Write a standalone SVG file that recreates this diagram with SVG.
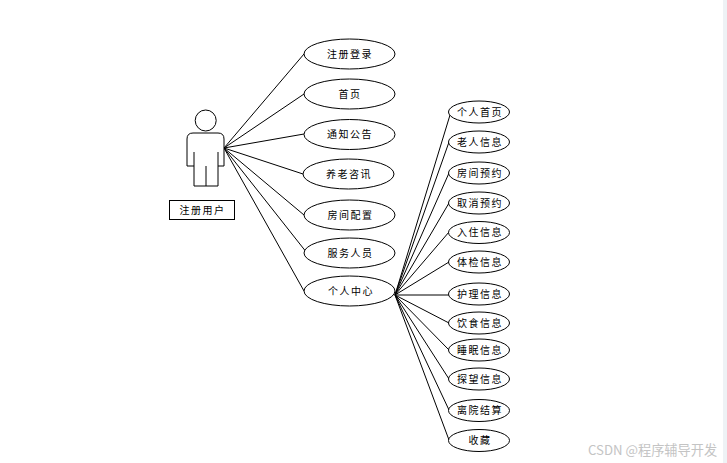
<svg xmlns="http://www.w3.org/2000/svg" width="727" height="463" viewBox="0 0 727 463">
<style>
.s{fill:#fff;stroke:#000;stroke-width:1}
.n{fill:none;stroke:#000;stroke-width:1}
.t{font-family:"Noto Sans CJK SC","Liberation Sans",sans-serif;font-size:10px;text-anchor:middle;dominant-baseline:central;fill:#000;letter-spacing:1.5px}
.w{font-family:"Noto Sans CJK SC","Liberation Sans",sans-serif;font-size:13.2px;fill:#c4c4c4}
</style>
<rect width="727" height="463" fill="#fff"/>
<rect x="723" width="4" height="463" fill="#eef2f5"/>
<g id="connectors" class="n">
<path d="M224 148L304 54M224 148L304 94M224 148L304 134M224 148L303 174M224 148L304 215M224 148L307 253M224 148L304 291"/>
<path d="M395 295L450 115M395 295L449 142M395 295L449 173M395 295L449 203M395 295L449 232M395 295L449 262M395 295L449 295M395 295L449 323M395 295L449 350M395 295L449 379M395 295L449 410M395 295L449 440"/>
</g>
<g id="actor">
<circle class="s" cx="205.700" cy="120.500" r="10.500"/>
<path class="s" d="M187 166V139Q187 133 193 133H218Q224 133 224 139V166H218V186H194V166Z"/>
<path class="n" d="M194 152V166M218 152V166M206 166V186"/>
</g>
<g id="actor-label"><rect class="s" x="169.500" y="200.500" width="65" height="19"/><text class="t" x="202.500" y="209.500">注册用户</text></g>
<g id="n1"><ellipse class="s" cx="349.500" cy="54" rx="45.500" ry="15"/><text class="t" x="350" y="53">注册登录</text></g>
<g id="n2"><ellipse class="s" cx="349.500" cy="94" rx="45.500" ry="15"/><text class="t" x="350" y="93">首页</text></g>
<g id="n3"><ellipse class="s" cx="349.500" cy="134.500" rx="45.500" ry="15"/><text class="t" x="350" y="133.500">通知公告</text></g>
<g id="n4"><ellipse class="s" cx="348.500" cy="174" rx="45.500" ry="15"/><text class="t" x="349" y="173">养老咨讯</text></g>
<g id="n5"><ellipse class="s" cx="349.500" cy="215" rx="45.500" ry="15"/><text class="t" x="350.500" y="214">房间配置</text></g>
<g id="n6"><ellipse class="s" cx="349.500" cy="253" rx="45.500" ry="15"/><text class="t" x="350.500" y="252">服务人员</text></g>
<g id="n7"><ellipse class="s" cx="349.500" cy="291" rx="45.500" ry="15"/><text class="t" x="351" y="290">个人中心</text></g>
<g id="m1"><ellipse class="s" cx="479" cy="112" rx="30.500" ry="11"/><text class="t" x="480" y="111">个人首页</text></g>
<g id="m2"><ellipse class="s" cx="479" cy="142" rx="30.500" ry="11"/><text class="t" x="480" y="141">老人信息</text></g>
<g id="m3"><ellipse class="s" cx="479" cy="173" rx="30.500" ry="11"/><text class="t" x="480" y="172">房间预约</text></g>
<g id="m4"><ellipse class="s" cx="479" cy="203" rx="30.500" ry="11"/><text class="t" x="480" y="202">取消预约</text></g>
<g id="m5"><ellipse class="s" cx="479" cy="232.500" rx="30.500" ry="11"/><text class="t" x="480" y="231.500">入住信息</text></g>
<g id="m6"><ellipse class="s" cx="479" cy="262" rx="30.500" ry="11"/><text class="t" x="480" y="261">体检信息</text></g>
<g id="m7"><ellipse class="s" cx="479" cy="294" rx="30.500" ry="11"/><text class="t" x="480" y="293">护理信息</text></g>
<g id="m8"><ellipse class="s" cx="479" cy="323" rx="30.500" ry="11"/><text class="t" x="480" y="322">饮食信息</text></g>
<g id="m9"><ellipse class="s" cx="479" cy="350" rx="30.500" ry="11"/><text class="t" x="480" y="349">睡眠信息</text></g>
<g id="m10"><ellipse class="s" cx="479" cy="379" rx="30.500" ry="11"/><text class="t" x="480" y="378">探望信息</text></g>
<g id="m11"><ellipse class="s" cx="479" cy="410.500" rx="30.500" ry="11"/><text class="t" x="480" y="409.500">离院结算</text></g>
<g id="m12"><ellipse class="s" cx="479" cy="440.500" rx="30.500" ry="11"/><text class="t" x="480" y="439.500">收藏</text></g>
<text class="w" x="588" y="455">CSDN @程序辅导开发</text>
</svg>
